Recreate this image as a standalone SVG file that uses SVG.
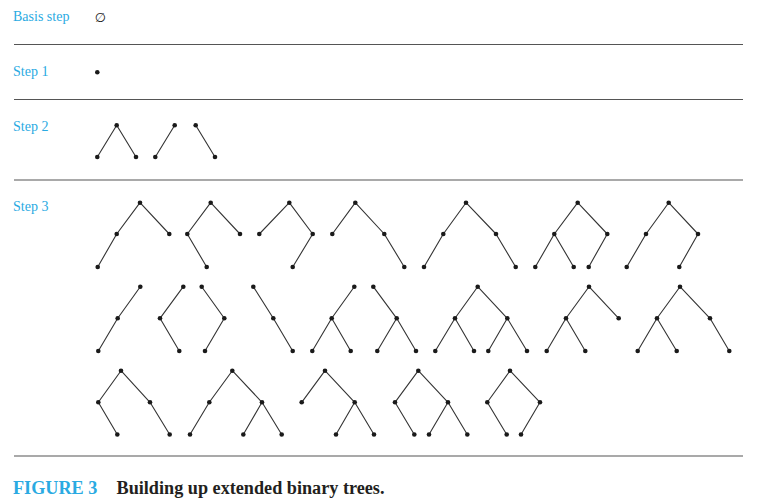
<svg xmlns="http://www.w3.org/2000/svg" width="765" height="501" viewBox="0 0 765 501">
<style>
.sep{stroke:#555;stroke-width:1.2}
.e line{stroke:#333;stroke-width:1.1;stroke-linecap:round}
.n circle{fill:#1a1a1a}
.lbl{font-family:"Liberation Serif","Times New Roman",serif;font-size:14px;fill:#2aaae2}
.cap{font-family:"Liberation Serif","Times New Roman",serif;font-size:18.2px;font-weight:bold}
</style>
<rect width="765" height="501" fill="#fff"/>
<g id="separators">
<line class="sep" x1="14" y1="44.5" x2="743" y2="44.5"/>
<line class="sep" x1="14" y1="99.5" x2="743" y2="99.5"/>
<line class="sep" x1="14" y1="180" x2="743" y2="180"/>
<line class="sep" x1="14" y1="456" x2="743" y2="456"/>
</g>
<g id="labels">
<text class="lbl" x="13" y="20.5">Basis step</text>
<text class="lbl" x="13" y="75.5">Step 1</text>
<text class="lbl" x="13" y="130.5">Step 2</text>
<text class="lbl" x="13" y="210.5">Step 3</text>
<text x="100.5" y="21.5" text-anchor="middle" font-family="DejaVu Sans,sans-serif" font-size="13" font-style="italic" fill="#222">∅</text>
</g>
<g id="connectors" class="e">
<!-- step 2 -->
<line x1="116.7" y1="125.3" x2="97.3" y2="157"/><line x1="116.7" y1="125.3" x2="136" y2="157"/>
<line x1="174.7" y1="125.3" x2="155.3" y2="157"/>
<line x1="195.7" y1="125.3" x2="215" y2="157"/>
<!-- row 1 -->
<line x1="140" y1="202.7" x2="116.7" y2="234"/><line x1="140" y1="202.7" x2="169.3" y2="234"/><line x1="116.7" y1="234" x2="97.7" y2="267"/>
<line x1="210.7" y1="202.7" x2="187.3" y2="234"/><line x1="210.7" y1="202.7" x2="240" y2="234"/><line x1="187.3" y1="234" x2="206.7" y2="267"/>
<line x1="289.3" y1="202.7" x2="259.3" y2="234"/><line x1="289.3" y1="202.7" x2="312.7" y2="234"/><line x1="312.7" y1="234" x2="292.7" y2="267"/>
<line x1="355.3" y1="202.7" x2="332.3" y2="234"/><line x1="355.3" y1="202.7" x2="384.3" y2="234"/><line x1="384.3" y1="234" x2="404.3" y2="267"/>
<line x1="466" y1="202.7" x2="443.3" y2="234"/><line x1="466" y1="202.7" x2="496" y2="234"/><line x1="443.3" y1="234" x2="424" y2="267"/><line x1="496" y1="234" x2="515.7" y2="267"/>
<line x1="577.7" y1="202.7" x2="554.3" y2="234"/><line x1="577.7" y1="202.7" x2="607.3" y2="234"/><line x1="554.3" y1="234" x2="535.3" y2="267"/><line x1="554.3" y1="234" x2="573.7" y2="267"/><line x1="607.3" y1="234" x2="588.7" y2="267"/>
<line x1="668.7" y1="202.7" x2="646" y2="234"/><line x1="668.7" y1="202.7" x2="698" y2="234"/><line x1="646" y1="234" x2="626.7" y2="267"/><line x1="698" y1="234" x2="679.3" y2="267"/>
<!-- row 2 -->
<line x1="140.3" y1="286.7" x2="117.7" y2="318.3"/><line x1="117.7" y1="318.3" x2="98.3" y2="351"/>
<line x1="183.3" y1="286.7" x2="160" y2="318.3"/><line x1="160" y1="318.3" x2="179.3" y2="351"/>
<line x1="201.7" y1="286.7" x2="224.3" y2="318.3"/><line x1="224.3" y1="318.3" x2="205" y2="351"/>
<line x1="253.3" y1="286.7" x2="273.3" y2="318.3"/><line x1="273.3" y1="318.3" x2="292.7" y2="351"/>
<line x1="354.3" y1="286.7" x2="331.7" y2="318.3"/><line x1="331.7" y1="318.3" x2="312.3" y2="351"/><line x1="331.7" y1="318.3" x2="350.7" y2="351"/>
<line x1="373.3" y1="286.7" x2="396.7" y2="318.3"/><line x1="396.7" y1="318.3" x2="377.3" y2="351"/><line x1="396.7" y1="318.3" x2="416" y2="351"/>
<line x1="477.7" y1="286.7" x2="455" y2="318.3"/><line x1="477.7" y1="286.7" x2="507.3" y2="318.3"/><line x1="455" y1="318.3" x2="435.3" y2="351"/><line x1="455" y1="318.3" x2="474" y2="351"/><line x1="507.3" y1="318.3" x2="488.3" y2="351"/><line x1="507.3" y1="318.3" x2="527" y2="351"/>
<line x1="589" y1="286.7" x2="566" y2="318.3"/><line x1="589" y1="286.7" x2="618.7" y2="318.3"/><line x1="566" y1="318.3" x2="546.7" y2="351"/><line x1="566" y1="318.3" x2="585.3" y2="351"/>
<line x1="680" y1="286.7" x2="657" y2="318.3"/><line x1="680" y1="286.7" x2="710" y2="318.3"/><line x1="657" y1="318.3" x2="637.7" y2="351"/><line x1="657" y1="318.3" x2="676.7" y2="351"/><line x1="710" y1="318.3" x2="729.3" y2="351"/>
<!-- row 3 -->
<line x1="121" y1="370.7" x2="98.3" y2="402.3"/><line x1="121" y1="370.7" x2="150" y2="402.3"/><line x1="98.3" y1="402.3" x2="117.3" y2="434.5"/><line x1="150" y1="402.3" x2="169.7" y2="434.5"/>
<line x1="232.3" y1="370.7" x2="209.3" y2="402.3"/><line x1="232.3" y1="370.7" x2="262" y2="402.3"/><line x1="209.3" y1="402.3" x2="190" y2="434.5"/><line x1="262" y1="402.3" x2="243.3" y2="434.5"/><line x1="262" y1="402.3" x2="281.7" y2="434.5"/>
<line x1="325" y1="370.7" x2="301.7" y2="402.3"/><line x1="325" y1="370.7" x2="354.7" y2="402.3"/><line x1="354.7" y1="402.3" x2="336" y2="434.5"/><line x1="354.7" y1="402.3" x2="374" y2="434.5"/>
<line x1="418.3" y1="370.7" x2="395" y2="402.3"/><line x1="418.3" y1="370.7" x2="448" y2="402.3"/><line x1="395" y1="402.3" x2="414.3" y2="434.5"/><line x1="448" y1="402.3" x2="429" y2="434.5"/><line x1="448" y1="402.3" x2="467.3" y2="434.5"/>
<line x1="510" y1="370.7" x2="487.3" y2="402.3"/><line x1="510" y1="370.7" x2="540" y2="402.3"/><line x1="487.3" y1="402.3" x2="506.7" y2="434.5"/><line x1="540" y1="402.3" x2="521" y2="434.5"/>
</g>
<g class="n">
<g id="step1"><circle cx="97.3" cy="72.3" r="2.3"/></g>
<g id="s2a"><circle cx="116.7" cy="125.3" r="2.3"/><circle cx="97.3" cy="157" r="2.3"/><circle cx="136" cy="157" r="2.3"/></g>
<g id="s2b"><circle cx="174.7" cy="125.3" r="2.3"/><circle cx="155.3" cy="157" r="2.3"/></g>
<g id="s2c"><circle cx="195.7" cy="125.3" r="2.3"/><circle cx="215" cy="157" r="2.3"/></g>
<g id="t1"><circle cx="140" cy="202.7" r="2.3"/><circle cx="116.7" cy="234" r="2.3"/><circle cx="169.3" cy="234" r="2.3"/><circle cx="97.7" cy="267" r="2.3"/></g>
<g id="t2"><circle cx="210.7" cy="202.7" r="2.3"/><circle cx="187.3" cy="234" r="2.3"/><circle cx="240" cy="234" r="2.3"/><circle cx="206.7" cy="267" r="2.3"/></g>
<g id="t3"><circle cx="289.3" cy="202.7" r="2.3"/><circle cx="259.3" cy="234" r="2.3"/><circle cx="312.7" cy="234" r="2.3"/><circle cx="292.7" cy="267" r="2.3"/></g>
<g id="t4"><circle cx="355.3" cy="202.7" r="2.3"/><circle cx="332.3" cy="234" r="2.3"/><circle cx="384.3" cy="234" r="2.3"/><circle cx="404.3" cy="267" r="2.3"/></g>
<g id="t5"><circle cx="466" cy="202.7" r="2.3"/><circle cx="443.3" cy="234" r="2.3"/><circle cx="496" cy="234" r="2.3"/><circle cx="424" cy="267" r="2.3"/><circle cx="515.7" cy="267" r="2.3"/></g>
<g id="t6"><circle cx="577.7" cy="202.7" r="2.3"/><circle cx="554.3" cy="234" r="2.3"/><circle cx="607.3" cy="234" r="2.3"/><circle cx="535.3" cy="267" r="2.3"/><circle cx="573.7" cy="267" r="2.3"/><circle cx="588.7" cy="267" r="2.3"/></g>
<g id="t7"><circle cx="668.7" cy="202.7" r="2.3"/><circle cx="646" cy="234" r="2.3"/><circle cx="698" cy="234" r="2.3"/><circle cx="626.7" cy="267" r="2.3"/><circle cx="679.3" cy="267" r="2.3"/></g>
<g id="t8"><circle cx="140.3" cy="286.7" r="2.3"/><circle cx="117.7" cy="318.3" r="2.3"/><circle cx="98.3" cy="351" r="2.3"/></g>
<g id="t9"><circle cx="183.3" cy="286.7" r="2.3"/><circle cx="160" cy="318.3" r="2.3"/><circle cx="179.3" cy="351" r="2.3"/></g>
<g id="t10"><circle cx="201.7" cy="286.7" r="2.3"/><circle cx="224.3" cy="318.3" r="2.3"/><circle cx="205" cy="351" r="2.3"/></g>
<g id="t11"><circle cx="253.3" cy="286.7" r="2.3"/><circle cx="273.3" cy="318.3" r="2.3"/><circle cx="292.7" cy="351" r="2.3"/></g>
<g id="t12"><circle cx="354.3" cy="286.7" r="2.3"/><circle cx="331.7" cy="318.3" r="2.3"/><circle cx="312.3" cy="351" r="2.3"/><circle cx="350.7" cy="351" r="2.3"/></g>
<g id="t13"><circle cx="373.3" cy="286.7" r="2.3"/><circle cx="396.7" cy="318.3" r="2.3"/><circle cx="377.3" cy="351" r="2.3"/><circle cx="416" cy="351" r="2.3"/></g>
<g id="t14"><circle cx="477.7" cy="286.7" r="2.3"/><circle cx="455" cy="318.3" r="2.3"/><circle cx="507.3" cy="318.3" r="2.3"/><circle cx="435.3" cy="351" r="2.3"/><circle cx="474" cy="351" r="2.3"/><circle cx="488.3" cy="351" r="2.3"/><circle cx="527" cy="351" r="2.3"/></g>
<g id="t15"><circle cx="589" cy="286.7" r="2.3"/><circle cx="566" cy="318.3" r="2.3"/><circle cx="618.7" cy="318.3" r="2.3"/><circle cx="546.7" cy="351" r="2.3"/><circle cx="585.3" cy="351" r="2.3"/></g>
<g id="t16"><circle cx="680" cy="286.7" r="2.3"/><circle cx="657" cy="318.3" r="2.3"/><circle cx="710" cy="318.3" r="2.3"/><circle cx="637.7" cy="351" r="2.3"/><circle cx="676.7" cy="351" r="2.3"/><circle cx="729.3" cy="351" r="2.3"/></g>
<g id="t17"><circle cx="121" cy="370.7" r="2.3"/><circle cx="98.3" cy="402.3" r="2.3"/><circle cx="150" cy="402.3" r="2.3"/><circle cx="117.3" cy="434.5" r="2.3"/><circle cx="169.7" cy="434.5" r="2.3"/></g>
<g id="t18"><circle cx="232.3" cy="370.7" r="2.3"/><circle cx="209.3" cy="402.3" r="2.3"/><circle cx="262" cy="402.3" r="2.3"/><circle cx="190" cy="434.5" r="2.3"/><circle cx="243.3" cy="434.5" r="2.3"/><circle cx="281.7" cy="434.5" r="2.3"/></g>
<g id="t19"><circle cx="325" cy="370.7" r="2.3"/><circle cx="301.7" cy="402.3" r="2.3"/><circle cx="354.7" cy="402.3" r="2.3"/><circle cx="336" cy="434.5" r="2.3"/><circle cx="374" cy="434.5" r="2.3"/></g>
<g id="t20"><circle cx="418.3" cy="370.7" r="2.3"/><circle cx="395" cy="402.3" r="2.3"/><circle cx="448" cy="402.3" r="2.3"/><circle cx="414.3" cy="434.5" r="2.3"/><circle cx="429" cy="434.5" r="2.3"/><circle cx="467.3" cy="434.5" r="2.3"/></g>
<g id="t21"><circle cx="510" cy="370.7" r="2.3"/><circle cx="487.3" cy="402.3" r="2.3"/><circle cx="540" cy="402.3" r="2.3"/><circle cx="506.7" cy="434.5" r="2.3"/><circle cx="521" cy="434.5" r="2.3"/></g>
</g>
<g id="caption">
<text class="cap" x="13" y="493.5" fill="#2aaae2">FIGURE 3</text>
<text class="cap" x="116.5" y="493.5" fill="#231f20">Building up extended binary trees.</text>
</g>
</svg>
